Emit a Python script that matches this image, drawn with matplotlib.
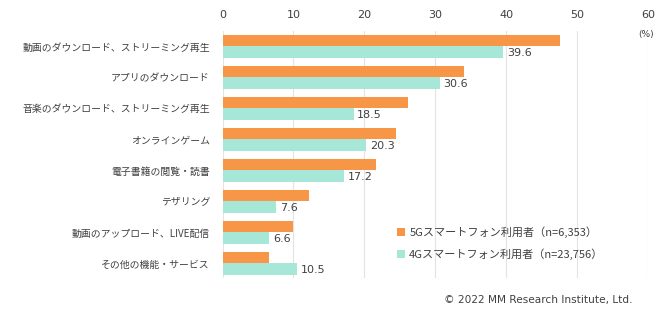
import matplotlib
matplotlib.use("Agg")
import matplotlib.pyplot as plt
import numpy as np

plt.rcParams['font.family'] = ['DejaVu Sans', 'Noto Sans CJK JP']
CJK = ['Noto Sans CJK JP', 'DejaVu Sans']

categories = ["動画のダウンロード、ストリーミング再生", "アプリのダウンロード",
              "音楽のダウンロード、ストリーミング再生", "オンラインゲーム",
              "電子書籍の閲覧・読書", "テザリング", "動画のアップロード、LIVE配信",
              "その他の機能・サービス"]
values_5g = [47.6, 34.1, 26.2, 24.5, 21.7, 12.2, 9.9, 6.5]
values_4g = [39.6, 30.6, 18.5, 20.3, 17.2, 7.6, 6.6, 10.5]
label_5g = "5Gスマートフォン利用者（n=6,353）"
label_4g = "4Gスマートフォン利用者（n=23,756）"
xticks = [0, 10, 20, 30, 40, 50, 60]

c5 = "#F79646"
c4 = "#A6E7D7"
tc = "#404040"

fig = plt.figure(figsize=(6.65, 3.23), dpi=100)
ax = fig.add_axes([222.5/665, 1-278/323, (648-222.5)/665, (278-31)/323])

y = np.arange(len(categories))
h = 0.37
b5 = ax.barh(y - h/2, values_5g, height=h, color=c5, label=label_5g)
b4 = ax.barh(y + h/2, values_4g, height=h, color=c4, label=label_4g)

for yi, v in zip(y, values_4g):
    ax.text(v + 0.5, yi + h/2 + 0.03, f"{v:.1f}", va="center", ha="left", fontsize=8, color=tc)

ax.set_xlim(0, 60)
ax.set_ylim(len(categories) - 1 + 0.47, -0.5)
ax.set_xticks(xticks)
ax.xaxis.tick_top()
ax.tick_params(axis='x', length=0, pad=8, labelsize=8, labelcolor=tc)
ax.set_yticks(y)
ax.set_yticklabels(categories, family=CJK, fontsize=7.1)
ax.tick_params(axis='y', length=0, pad=9, labelcolor=tc)
ax.grid(axis='x', color="#E3E3E3", linewidth=0.8)
ax.set_axisbelow(True)
for s in ax.spines.values():
    s.set_visible(False)

fig.text(646/665, 1-34/323, "(%)", ha="center", va="center", fontsize=6.5, color=tc)

leg = fig.legend(handles=[b5, b4], loc="upper left", bbox_to_anchor=(397/665, 1-226/323),
                 frameon=False, prop={'family': CJK, 'size': 8}, handlelength=0.7, handleheight=0.7,
                 handletextpad=0.4, labelspacing=0.95, borderaxespad=0, borderpad=0)
for t in leg.get_texts():
    t.set_color(tc)

fig.text(632/665, 1-300/323, "© 2022 MM Research Institute, Ltd.", ha="right", va="center",
         fontsize=7.6, color=tc)

fig.savefig("out.png", dpi=100)
